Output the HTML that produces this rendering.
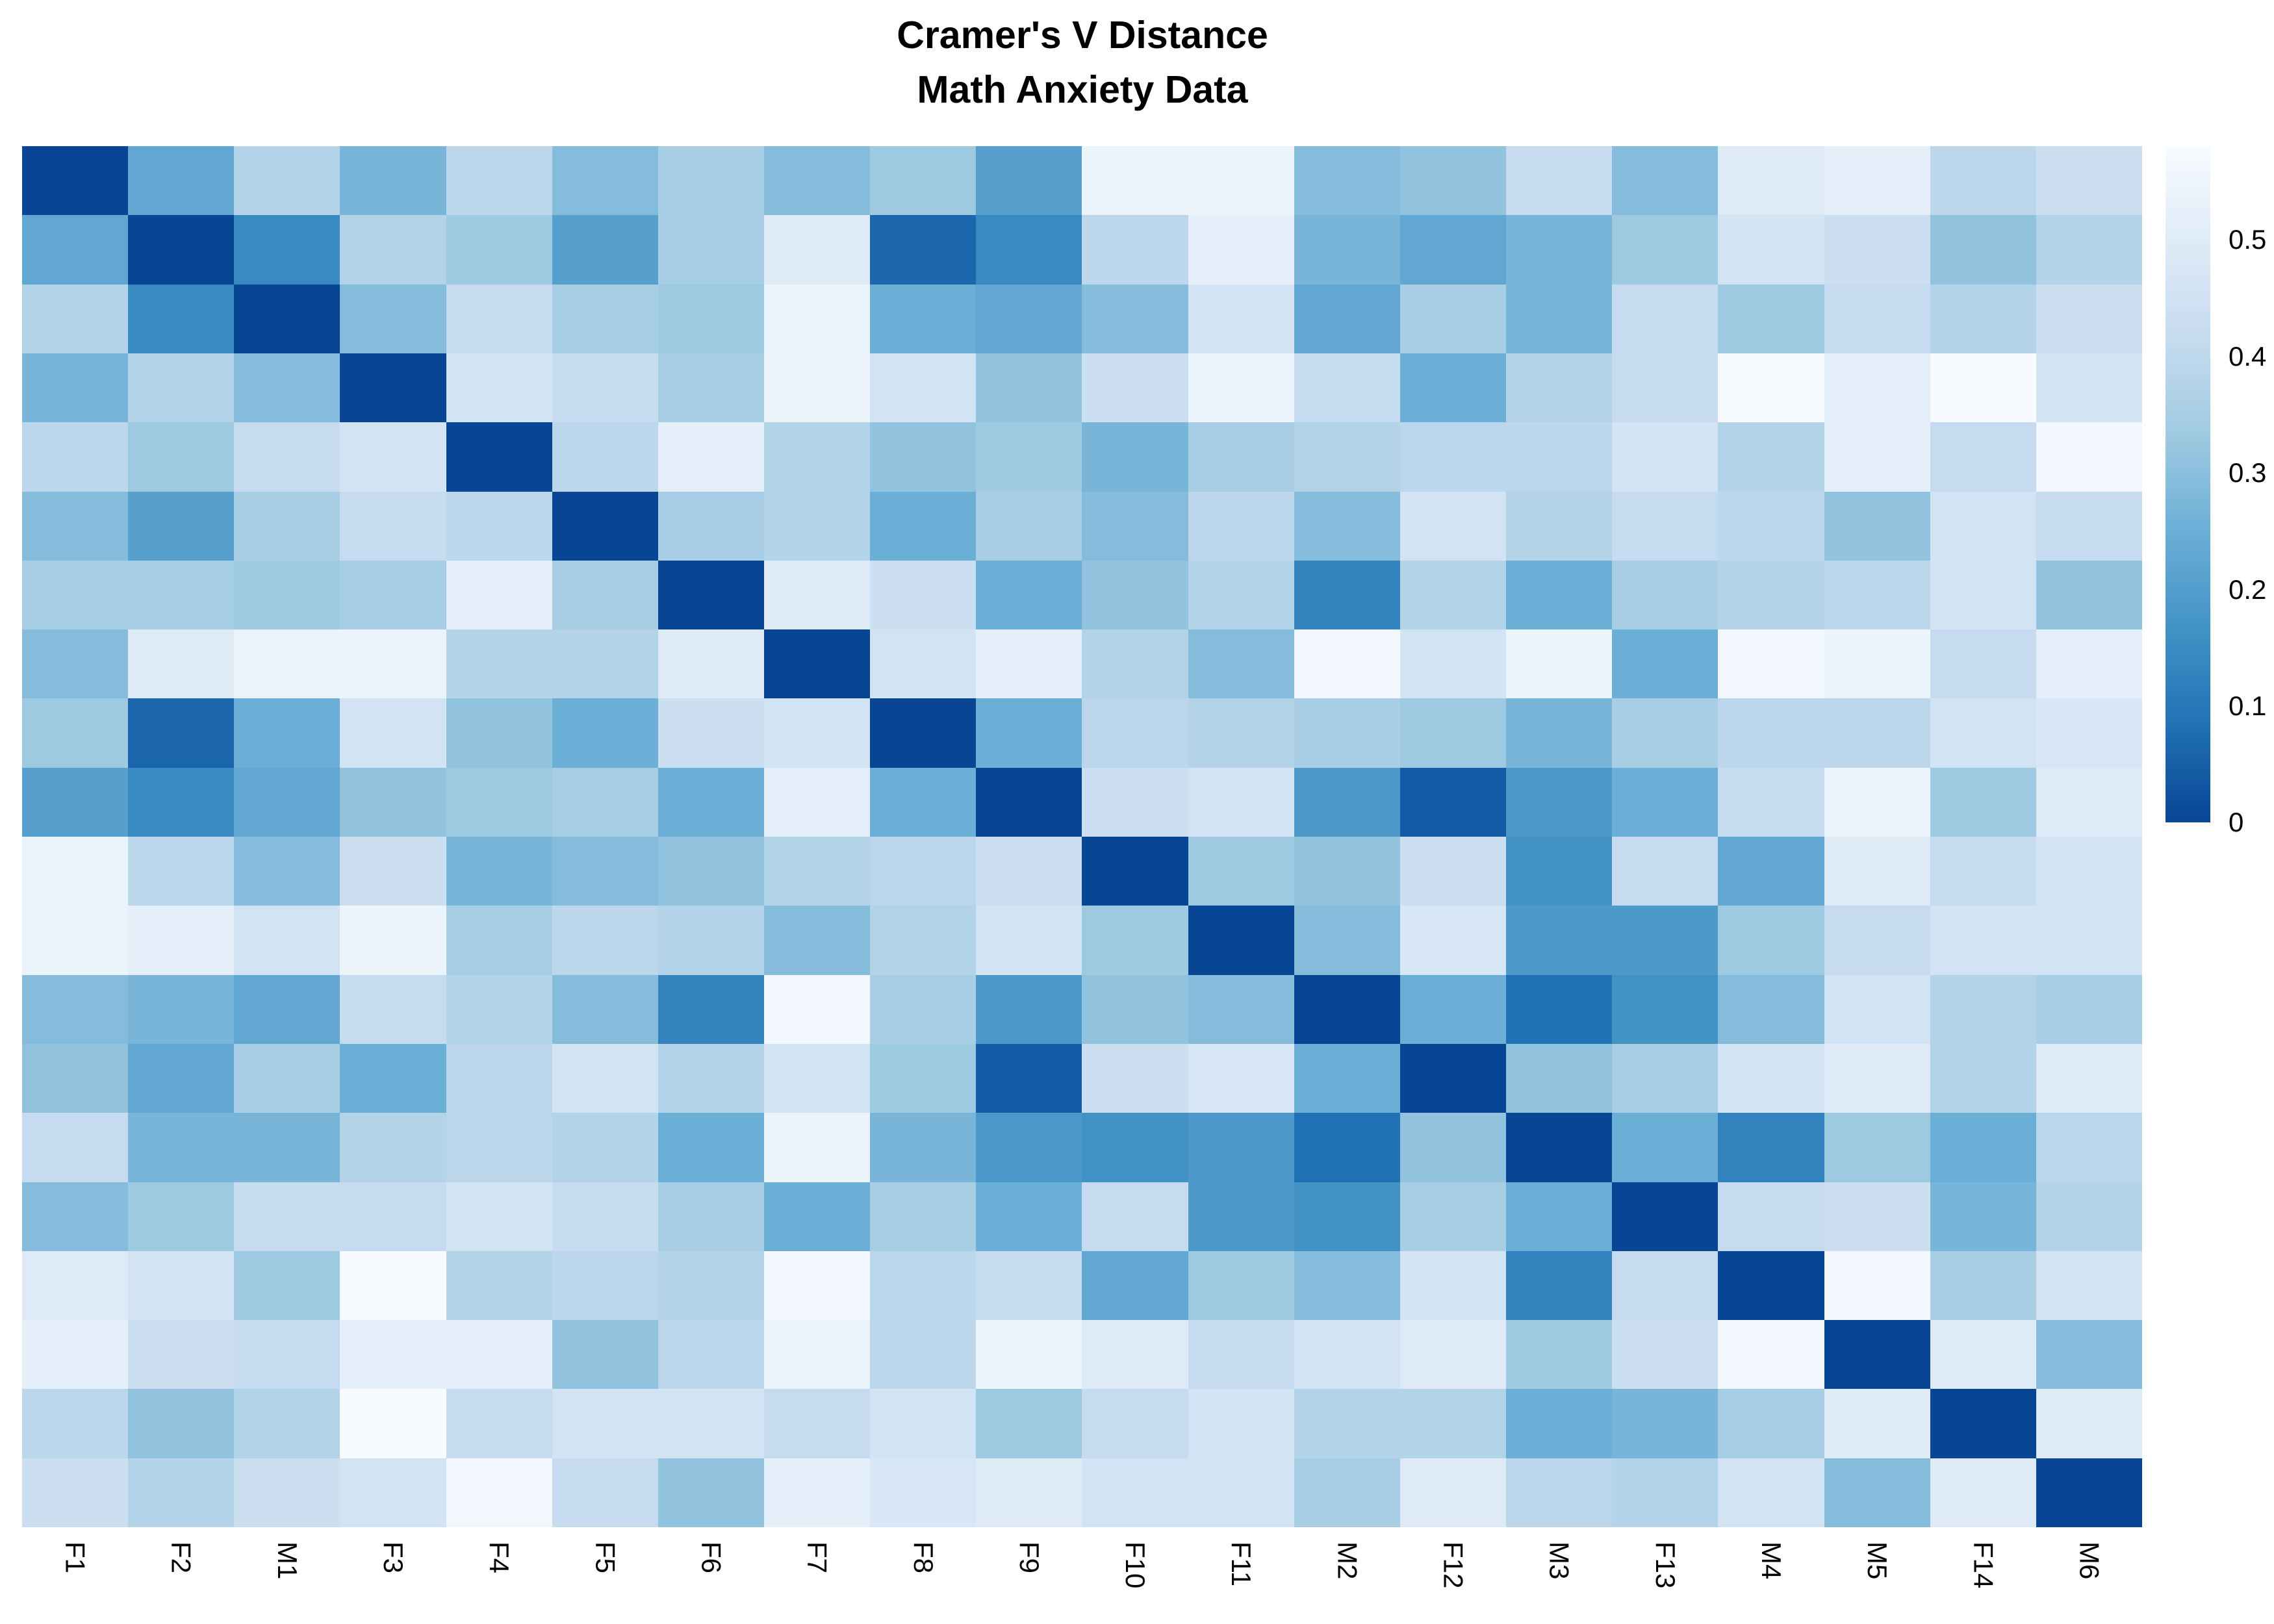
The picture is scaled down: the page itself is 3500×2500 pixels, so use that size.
<!DOCTYPE html>
<html>
<head>
<meta charset="utf-8">
<style>
html,body{margin:0;padding:0;background:#fff;}
body{width:3500px;height:2500px;position:relative;overflow:hidden;font-family:"Liberation Sans",Arial,sans-serif;color:#000;}
.t{position:absolute;left:0;width:3332px;text-align:center;font-weight:bold;font-size:59px;line-height:59px;white-space:nowrap;}
.hm{position:absolute;left:34px;top:225px;width:3263px;height:2126px;display:grid;grid-template-columns:repeat(20,1fr);grid-template-rows:repeat(20,1fr);}
.hm i{display:block;}
.cb{position:absolute;left:3333px;top:225px;width:69px;height:1041px;background:linear-gradient(to top,#084594 0%,#2171B5 14.2857%,#4292C6 28.5714%,#6BAED6 42.8571%,#9ECAE1 57.1429%,#C6DBEF 71.4286%,#DEEBF7 85.7143%,#F7FBFF 100%);}
.tk{position:absolute;left:3430px;font-size:42px;line-height:42px;white-space:nowrap;}
.xl{position:absolute;left:34px;top:2373px;width:3263px;display:grid;grid-template-columns:repeat(20,1fr);justify-items:center;}
.xl span{writing-mode:vertical-rl;font-size:42px;line-height:42px;white-space:nowrap;}
.c0{background:#084594}.c1{background:#0E509C}.c2{background:#155BA5}.c3{background:#1B66AD}
.c4{background:#2171B5}.c5{background:#2979B9}.c6{background:#3282BE}.c7{background:#3A8AC2}
.c8{background:#4292C6}.c9{background:#4C99CA}.c10{background:#57A0CE}.c11{background:#61A7D2}
.c12{background:#6BAED6}.c13{background:#78B5D9}.c14{background:#85BCDC}.c15{background:#91C3DE}
.c16{background:#9ECAE1}.c17{background:#A8CEE5}.c18{background:#B2D3E8}.c19{background:#BCD7EC}
.c20{background:#C6DBEF}.c21{background:#CCDFF1}.c22{background:#D2E3F3}.c23{background:#D8E7F5}
.c24{background:#DEEBF7}.c25{background:#E4EFF9}.c26{background:#EBF3FB}.c27{background:#F1F7FD}
.c28{background:#F7FBFF}
</style>
</head>
<body>
<div class="t" style="top:25px;">Cramer's V Distance</div>
<div class="t" style="top:109px;">Math Anxiety Data</div>

<div class="hm">
<i class=c0></i><i class=c11></i><i class=c18></i><i class=c13></i><i class=c19></i><i class=c14></i><i class=c17></i><i class=c14></i><i class=c16></i><i class=c10></i><i class=c26></i><i class=c26></i><i class=c14></i><i class=c15></i><i class=c20></i><i class=c14></i><i class=c24></i><i class=c25></i><i class=c19></i><i class=c21></i>
<i class=c11></i><i class=c0></i><i class=c7></i><i class=c18></i><i class=c16></i><i class=c10></i><i class=c17></i><i class=c24></i><i class=c3></i><i class=c7></i><i class=c19></i><i class=c25></i><i class=c13></i><i class=c11></i><i class=c13></i><i class=c16></i><i class=c22></i><i class=c21></i><i class=c15></i><i class=c18></i>
<i class=c18></i><i class=c7></i><i class=c0></i><i class=c14></i><i class=c20></i><i class=c17></i><i class=c16></i><i class=c26></i><i class=c12></i><i class=c11></i><i class=c14></i><i class=c22></i><i class=c11></i><i class=c17></i><i class=c13></i><i class=c20></i><i class=c16></i><i class=c20></i><i class=c18></i><i class=c21></i>
<i class=c13></i><i class=c18></i><i class=c14></i><i class=c0></i><i class=c22></i><i class=c20></i><i class=c17></i><i class=c26></i><i class=c22></i><i class=c15></i><i class=c21></i><i class=c26></i><i class=c20></i><i class=c12></i><i class=c18></i><i class=c20></i><i class=c28></i><i class=c25></i><i class=c28></i><i class=c22></i>
<i class=c19></i><i class=c16></i><i class=c20></i><i class=c22></i><i class=c0></i><i class=c19></i><i class=c25></i><i class=c18></i><i class=c15></i><i class=c16></i><i class=c13></i><i class=c17></i><i class=c18></i><i class=c19></i><i class=c19></i><i class=c22></i><i class=c18></i><i class=c25></i><i class=c20></i><i class=c27></i>
<i class=c14></i><i class=c10></i><i class=c17></i><i class=c20></i><i class=c19></i><i class=c0></i><i class=c17></i><i class=c18></i><i class=c12></i><i class=c17></i><i class=c14></i><i class=c19></i><i class=c14></i><i class=c22></i><i class=c18></i><i class=c20></i><i class=c19></i><i class=c15></i><i class=c22></i><i class=c20></i>
<i class=c17></i><i class=c17></i><i class=c16></i><i class=c17></i><i class=c25></i><i class=c17></i><i class=c0></i><i class=c24></i><i class=c21></i><i class=c12></i><i class=c15></i><i class=c18></i><i class=c6></i><i class=c18></i><i class=c12></i><i class=c17></i><i class=c18></i><i class=c19></i><i class=c22></i><i class=c15></i>
<i class=c14></i><i class=c24></i><i class=c26></i><i class=c26></i><i class=c18></i><i class=c18></i><i class=c24></i><i class=c0></i><i class=c22></i><i class=c25></i><i class=c18></i><i class=c14></i><i class=c27></i><i class=c22></i><i class=c26></i><i class=c12></i><i class=c27></i><i class=c26></i><i class=c20></i><i class=c25></i>
<i class=c16></i><i class=c3></i><i class=c12></i><i class=c22></i><i class=c15></i><i class=c12></i><i class=c21></i><i class=c22></i><i class=c0></i><i class=c12></i><i class=c19></i><i class=c18></i><i class=c17></i><i class=c16></i><i class=c13></i><i class=c17></i><i class=c19></i><i class=c19></i><i class=c22></i><i class=c23></i>
<i class=c10></i><i class=c7></i><i class=c11></i><i class=c15></i><i class=c16></i><i class=c17></i><i class=c12></i><i class=c25></i><i class=c12></i><i class=c0></i><i class=c21></i><i class=c22></i><i class=c9></i><i class=c2></i><i class=c9></i><i class=c12></i><i class=c20></i><i class=c26></i><i class=c16></i><i class=c24></i>
<i class=c26></i><i class=c19></i><i class=c14></i><i class=c21></i><i class=c13></i><i class=c14></i><i class=c15></i><i class=c18></i><i class=c19></i><i class=c21></i><i class=c0></i><i class=c16></i><i class=c15></i><i class=c21></i><i class=c8></i><i class=c20></i><i class=c11></i><i class=c24></i><i class=c20></i><i class=c22></i>
<i class=c26></i><i class=c25></i><i class=c22></i><i class=c26></i><i class=c17></i><i class=c19></i><i class=c18></i><i class=c14></i><i class=c18></i><i class=c22></i><i class=c16></i><i class=c0></i><i class=c14></i><i class=c23></i><i class=c9></i><i class=c9></i><i class=c16></i><i class=c20></i><i class=c22></i><i class=c22></i>
<i class=c14></i><i class=c13></i><i class=c11></i><i class=c20></i><i class=c18></i><i class=c14></i><i class=c6></i><i class=c27></i><i class=c17></i><i class=c9></i><i class=c15></i><i class=c14></i><i class=c0></i><i class=c12></i><i class=c4></i><i class=c8></i><i class=c14></i><i class=c22></i><i class=c18></i><i class=c17></i>
<i class=c15></i><i class=c11></i><i class=c17></i><i class=c12></i><i class=c19></i><i class=c22></i><i class=c18></i><i class=c22></i><i class=c16></i><i class=c2></i><i class=c21></i><i class=c23></i><i class=c12></i><i class=c0></i><i class=c15></i><i class=c17></i><i class=c22></i><i class=c24></i><i class=c18></i><i class=c24></i>
<i class=c20></i><i class=c13></i><i class=c13></i><i class=c18></i><i class=c19></i><i class=c18></i><i class=c12></i><i class=c26></i><i class=c13></i><i class=c9></i><i class=c8></i><i class=c9></i><i class=c4></i><i class=c15></i><i class=c0></i><i class=c12></i><i class=c6></i><i class=c16></i><i class=c12></i><i class=c19></i>
<i class=c14></i><i class=c16></i><i class=c20></i><i class=c20></i><i class=c22></i><i class=c20></i><i class=c17></i><i class=c12></i><i class=c17></i><i class=c12></i><i class=c20></i><i class=c9></i><i class=c8></i><i class=c17></i><i class=c12></i><i class=c0></i><i class=c20></i><i class=c21></i><i class=c13></i><i class=c18></i>
<i class=c24></i><i class=c22></i><i class=c16></i><i class=c28></i><i class=c18></i><i class=c19></i><i class=c18></i><i class=c27></i><i class=c19></i><i class=c20></i><i class=c11></i><i class=c16></i><i class=c14></i><i class=c22></i><i class=c6></i><i class=c20></i><i class=c0></i><i class=c27></i><i class=c17></i><i class=c22></i>
<i class=c25></i><i class=c21></i><i class=c20></i><i class=c25></i><i class=c25></i><i class=c15></i><i class=c19></i><i class=c26></i><i class=c19></i><i class=c26></i><i class=c24></i><i class=c20></i><i class=c22></i><i class=c24></i><i class=c16></i><i class=c21></i><i class=c27></i><i class=c0></i><i class=c24></i><i class=c14></i>
<i class=c19></i><i class=c15></i><i class=c18></i><i class=c28></i><i class=c20></i><i class=c22></i><i class=c22></i><i class=c20></i><i class=c22></i><i class=c16></i><i class=c20></i><i class=c22></i><i class=c18></i><i class=c18></i><i class=c12></i><i class=c13></i><i class=c17></i><i class=c24></i><i class=c0></i><i class=c24></i>
<i class=c21></i><i class=c18></i><i class=c21></i><i class=c22></i><i class=c27></i><i class=c20></i><i class=c15></i><i class=c25></i><i class=c23></i><i class=c24></i><i class=c22></i><i class=c22></i><i class=c17></i><i class=c24></i><i class=c19></i><i class=c18></i><i class=c22></i><i class=c14></i><i class=c24></i><i class=c0></i>
</div>

<div class="cb"></div>
<div class="tk" style="top:348px;">0.5</div>
<div class="tk" style="top:528px;">0.4</div>
<div class="tk" style="top:707px;">0.3</div>
<div class="tk" style="top:887px;">0.2</div>
<div class="tk" style="top:1066px;">0.1</div>
<div class="tk" style="top:1245px;">0</div>

<div class="xl">
<span>F1</span><span>F2</span><span>M1</span><span>F3</span><span>F4</span><span>F5</span><span>F6</span><span>F7</span><span>F8</span><span>F9</span><span>F10</span><span>F11</span><span>M2</span><span>F12</span><span>M3</span><span>F13</span><span>M4</span><span>M5</span><span>F14</span><span>M6</span>
</div>
</body>
</html>
